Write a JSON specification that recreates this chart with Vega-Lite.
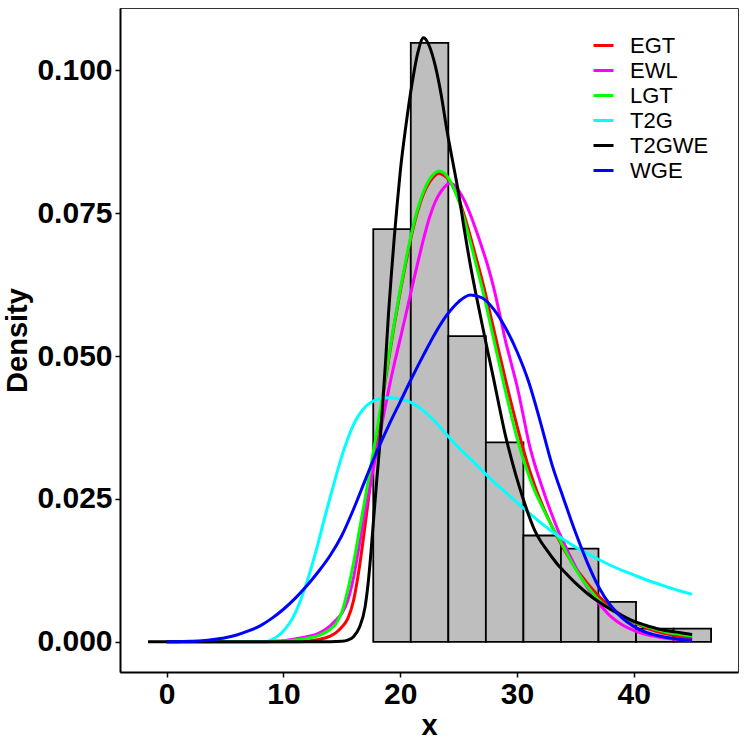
{
  "$schema": "https://vega.github.io/schema/vega-lite/v6.json",
  "width": 618,
  "height": 664,
  "autosize": {"type": "none"},
  "padding": {"left": 120, "top": 8, "right": 9, "bottom": 75},
  "config": {
    "font": "Liberation Sans",
    "view": {"stroke": "#333333", "strokeWidth": 1}
  },
  "datasets": {
    "hist": [
      {"x0": 17.69, "x1": 20.905, "density": 0.0722},
      {"x0": 20.905, "x1": 24.12, "density": 0.1048},
      {"x0": 24.12, "x1": 27.335, "density": 0.0535},
      {"x0": 27.335, "x1": 30.55, "density": 0.0349},
      {"x0": 30.55, "x1": 33.765, "density": 0.0186},
      {"x0": 33.765, "x1": 36.98, "density": 0.0163},
      {"x0": 36.98, "x1": 40.195, "density": 0.0070},
      {"x0": 40.195, "x1": 43.41, "density": 0.0023},
      {"x0": 43.41, "x1": 46.625, "density": 0.0023}
    ],
    "curves": [
      {"model": "EGT", "x": 0, "d": 0},
      {"model": "EGT", "x": 10, "d": 0},
      {"model": "EGT", "x": 11, "d": 0.00002},
      {"model": "EGT", "x": 12, "d": 0.0001},
      {"model": "EGT", "x": 13, "d": 0.0004},
      {"model": "EGT", "x": 14, "d": 0.0010},
      {"model": "EGT", "x": 14.5, "d": 0.0016},
      {"model": "EGT", "x": 15, "d": 0.0026},
      {"model": "EGT", "x": 15.5, "d": 0.0040},
      {"model": "EGT", "x": 16, "d": 0.0072},
      {"model": "EGT", "x": 16.5, "d": 0.0130},
      {"model": "EGT", "x": 17, "d": 0.0205},
      {"model": "EGT", "x": 17.5, "d": 0.0285},
      {"model": "EGT", "x": 18, "d": 0.0360},
      {"model": "EGT", "x": 18.5, "d": 0.0428},
      {"model": "EGT", "x": 19, "d": 0.0493},
      {"model": "EGT", "x": 19.5, "d": 0.0556},
      {"model": "EGT", "x": 20, "d": 0.0613},
      {"model": "EGT", "x": 20.5, "d": 0.0665},
      {"model": "EGT", "x": 21, "d": 0.0714},
      {"model": "EGT", "x": 21.5, "d": 0.0754},
      {"model": "EGT", "x": 22, "d": 0.0784},
      {"model": "EGT", "x": 22.5, "d": 0.0804},
      {"model": "EGT", "x": 23, "d": 0.0816},
      {"model": "EGT", "x": 23.3, "d": 0.0820},
      {"model": "EGT", "x": 23.5, "d": 0.0819},
      {"model": "EGT", "x": 24, "d": 0.0812},
      {"model": "EGT", "x": 24.5, "d": 0.0797},
      {"model": "EGT", "x": 25, "d": 0.0775},
      {"model": "EGT", "x": 25.5, "d": 0.0745},
      {"model": "EGT", "x": 26, "d": 0.0710},
      {"model": "EGT", "x": 26.5, "d": 0.0672},
      {"model": "EGT", "x": 27, "d": 0.0634},
      {"model": "EGT", "x": 27.5, "d": 0.0592},
      {"model": "EGT", "x": 28, "d": 0.0548},
      {"model": "EGT", "x": 28.5, "d": 0.0504},
      {"model": "EGT", "x": 29, "d": 0.0460},
      {"model": "EGT", "x": 29.5, "d": 0.0418},
      {"model": "EGT", "x": 30, "d": 0.0378},
      {"model": "EGT", "x": 30.5, "d": 0.0340},
      {"model": "EGT", "x": 31, "d": 0.0305},
      {"model": "EGT", "x": 31.5, "d": 0.0275},
      {"model": "EGT", "x": 32, "d": 0.0248},
      {"model": "EGT", "x": 32.5, "d": 0.0224},
      {"model": "EGT", "x": 33, "d": 0.0202},
      {"model": "EGT", "x": 33.5, "d": 0.0182},
      {"model": "EGT", "x": 34, "d": 0.0163},
      {"model": "EGT", "x": 34.5, "d": 0.0146},
      {"model": "EGT", "x": 35, "d": 0.0130},
      {"model": "EGT", "x": 35.5, "d": 0.0116},
      {"model": "EGT", "x": 36, "d": 0.0103},
      {"model": "EGT", "x": 37, "d": 0.0080},
      {"model": "EGT", "x": 38, "d": 0.0061},
      {"model": "EGT", "x": 39, "d": 0.0046},
      {"model": "EGT", "x": 40, "d": 0.0034},
      {"model": "EGT", "x": 41, "d": 0.0025},
      {"model": "EGT", "x": 42, "d": 0.0018},
      {"model": "EGT", "x": 43, "d": 0.0013},
      {"model": "EGT", "x": 44, "d": 0.0009},
      {"model": "EGT", "x": 45, "d": 0.0007},

      {"model": "EWL", "x": 0, "d": 0},
      {"model": "EWL", "x": 8, "d": 0},
      {"model": "EWL", "x": 9, "d": 0.0001},
      {"model": "EWL", "x": 10, "d": 0.0002},
      {"model": "EWL", "x": 11, "d": 0.0005},
      {"model": "EWL", "x": 12, "d": 0.0009},
      {"model": "EWL", "x": 13, "d": 0.0015},
      {"model": "EWL", "x": 14, "d": 0.0028},
      {"model": "EWL", "x": 14.5, "d": 0.0038},
      {"model": "EWL", "x": 15, "d": 0.0050},
      {"model": "EWL", "x": 15.5, "d": 0.0072},
      {"model": "EWL", "x": 16, "d": 0.0112},
      {"model": "EWL", "x": 16.5, "d": 0.0170},
      {"model": "EWL", "x": 17, "d": 0.0228},
      {"model": "EWL", "x": 17.5, "d": 0.0282},
      {"model": "EWL", "x": 18, "d": 0.0335},
      {"model": "EWL", "x": 18.5, "d": 0.0388},
      {"model": "EWL", "x": 19, "d": 0.0440},
      {"model": "EWL", "x": 19.5, "d": 0.0487},
      {"model": "EWL", "x": 20, "d": 0.0530},
      {"model": "EWL", "x": 20.5, "d": 0.0574},
      {"model": "EWL", "x": 21, "d": 0.0619},
      {"model": "EWL", "x": 21.5, "d": 0.0663},
      {"model": "EWL", "x": 22, "d": 0.0705},
      {"model": "EWL", "x": 22.5, "d": 0.0742},
      {"model": "EWL", "x": 23, "d": 0.0770},
      {"model": "EWL", "x": 23.5, "d": 0.0788},
      {"model": "EWL", "x": 24, "d": 0.0800},
      {"model": "EWL", "x": 24.2, "d": 0.0803},
      {"model": "EWL", "x": 24.5, "d": 0.0801},
      {"model": "EWL", "x": 25, "d": 0.0790},
      {"model": "EWL", "x": 25.5, "d": 0.0772},
      {"model": "EWL", "x": 26, "d": 0.0748},
      {"model": "EWL", "x": 26.5, "d": 0.0720},
      {"model": "EWL", "x": 27, "d": 0.0690},
      {"model": "EWL", "x": 27.5, "d": 0.0658},
      {"model": "EWL", "x": 28, "d": 0.0620},
      {"model": "EWL", "x": 28.5, "d": 0.0575},
      {"model": "EWL", "x": 29, "d": 0.0528},
      {"model": "EWL", "x": 29.5, "d": 0.0488},
      {"model": "EWL", "x": 30, "d": 0.0448},
      {"model": "EWL", "x": 30.5, "d": 0.0400},
      {"model": "EWL", "x": 31, "d": 0.0350},
      {"model": "EWL", "x": 31.5, "d": 0.0312},
      {"model": "EWL", "x": 32, "d": 0.0280},
      {"model": "EWL", "x": 32.5, "d": 0.0250},
      {"model": "EWL", "x": 33, "d": 0.0222},
      {"model": "EWL", "x": 33.5, "d": 0.0196},
      {"model": "EWL", "x": 34, "d": 0.0174},
      {"model": "EWL", "x": 34.5, "d": 0.0152},
      {"model": "EWL", "x": 35, "d": 0.0132},
      {"model": "EWL", "x": 35.5, "d": 0.0113},
      {"model": "EWL", "x": 36, "d": 0.0096},
      {"model": "EWL", "x": 37, "d": 0.0068},
      {"model": "EWL", "x": 38, "d": 0.0045},
      {"model": "EWL", "x": 39, "d": 0.0030},
      {"model": "EWL", "x": 40, "d": 0.0020},
      {"model": "EWL", "x": 41, "d": 0.0013},
      {"model": "EWL", "x": 42, "d": 0.0009},
      {"model": "EWL", "x": 43, "d": 0.0006},
      {"model": "EWL", "x": 44, "d": 0.0004},
      {"model": "EWL", "x": 45, "d": 0.0003},

      {"model": "LGT", "x": 0, "d": 0},
      {"model": "LGT", "x": 8, "d": 0},
      {"model": "LGT", "x": 9, "d": 0.00005},
      {"model": "LGT", "x": 10, "d": 0.0001},
      {"model": "LGT", "x": 11, "d": 0.0003},
      {"model": "LGT", "x": 12, "d": 0.0006},
      {"model": "LGT", "x": 13, "d": 0.0011},
      {"model": "LGT", "x": 14, "d": 0.0022},
      {"model": "LGT", "x": 14.5, "d": 0.0032},
      {"model": "LGT", "x": 15, "d": 0.0052},
      {"model": "LGT", "x": 15.5, "d": 0.0090},
      {"model": "LGT", "x": 16, "d": 0.0138},
      {"model": "LGT", "x": 16.5, "d": 0.0195},
      {"model": "LGT", "x": 17, "d": 0.0252},
      {"model": "LGT", "x": 17.5, "d": 0.0310},
      {"model": "LGT", "x": 18, "d": 0.0368},
      {"model": "LGT", "x": 18.5, "d": 0.0432},
      {"model": "LGT", "x": 19, "d": 0.0497},
      {"model": "LGT", "x": 19.5, "d": 0.0559},
      {"model": "LGT", "x": 20, "d": 0.0616},
      {"model": "LGT", "x": 20.5, "d": 0.0669},
      {"model": "LGT", "x": 21, "d": 0.0718},
      {"model": "LGT", "x": 21.5, "d": 0.0758},
      {"model": "LGT", "x": 22, "d": 0.0788},
      {"model": "LGT", "x": 22.5, "d": 0.0809},
      {"model": "LGT", "x": 23, "d": 0.0821},
      {"model": "LGT", "x": 23.3, "d": 0.0824},
      {"model": "LGT", "x": 23.5, "d": 0.0823},
      {"model": "LGT", "x": 24, "d": 0.0815},
      {"model": "LGT", "x": 24.5, "d": 0.0797},
      {"model": "LGT", "x": 25, "d": 0.0772},
      {"model": "LGT", "x": 25.5, "d": 0.0738},
      {"model": "LGT", "x": 26, "d": 0.0700},
      {"model": "LGT", "x": 26.5, "d": 0.0660},
      {"model": "LGT", "x": 27, "d": 0.0620},
      {"model": "LGT", "x": 27.5, "d": 0.0576},
      {"model": "LGT", "x": 28, "d": 0.0530},
      {"model": "LGT", "x": 28.5, "d": 0.0485},
      {"model": "LGT", "x": 29, "d": 0.0440},
      {"model": "LGT", "x": 29.5, "d": 0.0397},
      {"model": "LGT", "x": 30, "d": 0.0357},
      {"model": "LGT", "x": 30.5, "d": 0.0322},
      {"model": "LGT", "x": 31, "d": 0.0292},
      {"model": "LGT", "x": 31.5, "d": 0.0265},
      {"model": "LGT", "x": 32, "d": 0.0243},
      {"model": "LGT", "x": 32.5, "d": 0.0222},
      {"model": "LGT", "x": 33, "d": 0.0202},
      {"model": "LGT", "x": 33.5, "d": 0.0184},
      {"model": "LGT", "x": 34, "d": 0.0165},
      {"model": "LGT", "x": 34.5, "d": 0.0146},
      {"model": "LGT", "x": 35, "d": 0.0128},
      {"model": "LGT", "x": 35.5, "d": 0.0112},
      {"model": "LGT", "x": 36, "d": 0.0098},
      {"model": "LGT", "x": 37, "d": 0.0073},
      {"model": "LGT", "x": 38, "d": 0.0057},
      {"model": "LGT", "x": 39, "d": 0.0045},
      {"model": "LGT", "x": 40, "d": 0.0035},
      {"model": "LGT", "x": 41, "d": 0.0027},
      {"model": "LGT", "x": 42, "d": 0.0021},
      {"model": "LGT", "x": 43, "d": 0.0016},
      {"model": "LGT", "x": 44, "d": 0.0013},
      {"model": "LGT", "x": 45, "d": 0.0010},

      {"model": "T2G", "x": 0, "d": 0},
      {"model": "T2G", "x": 8.5, "d": 0},
      {"model": "T2G", "x": 9, "d": 0.0004},
      {"model": "T2G", "x": 9.5, "d": 0.0010},
      {"model": "T2G", "x": 10, "d": 0.0019},
      {"model": "T2G", "x": 10.5, "d": 0.0032},
      {"model": "T2G", "x": 11, "d": 0.0050},
      {"model": "T2G", "x": 11.5, "d": 0.0075},
      {"model": "T2G", "x": 12, "d": 0.0104},
      {"model": "T2G", "x": 12.5, "d": 0.0138},
      {"model": "T2G", "x": 13, "d": 0.0175},
      {"model": "T2G", "x": 13.5, "d": 0.0215},
      {"model": "T2G", "x": 14, "d": 0.0253},
      {"model": "T2G", "x": 14.5, "d": 0.0290},
      {"model": "T2G", "x": 15, "d": 0.0325},
      {"model": "T2G", "x": 15.5, "d": 0.0355},
      {"model": "T2G", "x": 16, "d": 0.0380},
      {"model": "T2G", "x": 16.5, "d": 0.0398},
      {"model": "T2G", "x": 17, "d": 0.0411},
      {"model": "T2G", "x": 17.5, "d": 0.0419},
      {"model": "T2G", "x": 18, "d": 0.0424},
      {"model": "T2G", "x": 19, "d": 0.0427},
      {"model": "T2G", "x": 20, "d": 0.0425},
      {"model": "T2G", "x": 21, "d": 0.0418},
      {"model": "T2G", "x": 22, "d": 0.0404},
      {"model": "T2G", "x": 23, "d": 0.0385},
      {"model": "T2G", "x": 24, "d": 0.0362},
      {"model": "T2G", "x": 25, "d": 0.0340},
      {"model": "T2G", "x": 26, "d": 0.0320},
      {"model": "T2G", "x": 27, "d": 0.0300},
      {"model": "T2G", "x": 28, "d": 0.0280},
      {"model": "T2G", "x": 29, "d": 0.0262},
      {"model": "T2G", "x": 30, "d": 0.0244},
      {"model": "T2G", "x": 31, "d": 0.0226},
      {"model": "T2G", "x": 32, "d": 0.0209},
      {"model": "T2G", "x": 33, "d": 0.0193},
      {"model": "T2G", "x": 34, "d": 0.0179},
      {"model": "T2G", "x": 35, "d": 0.0166},
      {"model": "T2G", "x": 36, "d": 0.0155},
      {"model": "T2G", "x": 37, "d": 0.0144},
      {"model": "T2G", "x": 38, "d": 0.0134},
      {"model": "T2G", "x": 39, "d": 0.0125},
      {"model": "T2G", "x": 40, "d": 0.0117},
      {"model": "T2G", "x": 41, "d": 0.0109},
      {"model": "T2G", "x": 42, "d": 0.0102},
      {"model": "T2G", "x": 43, "d": 0.0095},
      {"model": "T2G", "x": 44, "d": 0.0089},
      {"model": "T2G", "x": 45, "d": 0.0083},

      {"model": "T2GWE", "x": -1.6, "d": 0},
      {"model": "T2GWE", "x": 10, "d": 0},
      {"model": "T2GWE", "x": 14, "d": 0.00002},
      {"model": "T2GWE", "x": 15, "d": 0.0001},
      {"model": "T2GWE", "x": 15.5, "d": 0.0003},
      {"model": "T2GWE", "x": 16, "d": 0.0009},
      {"model": "T2GWE", "x": 16.5, "d": 0.0025},
      {"model": "T2GWE", "x": 17, "d": 0.0062},
      {"model": "T2GWE", "x": 17.25, "d": 0.0102},
      {"model": "T2GWE", "x": 17.5, "d": 0.0158},
      {"model": "T2GWE", "x": 17.75, "d": 0.0222},
      {"model": "T2GWE", "x": 18, "d": 0.0285},
      {"model": "T2GWE", "x": 18.25, "d": 0.0345},
      {"model": "T2GWE", "x": 18.5, "d": 0.0415},
      {"model": "T2GWE", "x": 18.75, "d": 0.0492},
      {"model": "T2GWE", "x": 19, "d": 0.0575},
      {"model": "T2GWE", "x": 19.25, "d": 0.0645},
      {"model": "T2GWE", "x": 19.5, "d": 0.0710},
      {"model": "T2GWE", "x": 19.75, "d": 0.0768},
      {"model": "T2GWE", "x": 20, "d": 0.0822},
      {"model": "T2GWE", "x": 20.5, "d": 0.0905},
      {"model": "T2GWE", "x": 21, "d": 0.0975},
      {"model": "T2GWE", "x": 21.5, "d": 0.1030},
      {"model": "T2GWE", "x": 22, "d": 0.1057},
      {"model": "T2GWE", "x": 22.5, "d": 0.1042},
      {"model": "T2GWE", "x": 23, "d": 0.1008},
      {"model": "T2GWE", "x": 23.5, "d": 0.0958},
      {"model": "T2GWE", "x": 24, "d": 0.0895},
      {"model": "T2GWE", "x": 24.5, "d": 0.0840},
      {"model": "T2GWE", "x": 25, "d": 0.0785},
      {"model": "T2GWE", "x": 25.5, "d": 0.0720},
      {"model": "T2GWE", "x": 26, "d": 0.0660},
      {"model": "T2GWE", "x": 26.5, "d": 0.0607},
      {"model": "T2GWE", "x": 27, "d": 0.0557},
      {"model": "T2GWE", "x": 27.5, "d": 0.0508},
      {"model": "T2GWE", "x": 28, "d": 0.0460},
      {"model": "T2GWE", "x": 28.5, "d": 0.0410},
      {"model": "T2GWE", "x": 29, "d": 0.0362},
      {"model": "T2GWE", "x": 29.5, "d": 0.0322},
      {"model": "T2GWE", "x": 30, "d": 0.0285},
      {"model": "T2GWE", "x": 30.5, "d": 0.0252},
      {"model": "T2GWE", "x": 31, "d": 0.0222},
      {"model": "T2GWE", "x": 31.5, "d": 0.0196},
      {"model": "T2GWE", "x": 32, "d": 0.0177},
      {"model": "T2GWE", "x": 32.5, "d": 0.0162},
      {"model": "T2GWE", "x": 33, "d": 0.0148},
      {"model": "T2GWE", "x": 33.5, "d": 0.0135},
      {"model": "T2GWE", "x": 34, "d": 0.0124},
      {"model": "T2GWE", "x": 35, "d": 0.0103},
      {"model": "T2GWE", "x": 36, "d": 0.0085},
      {"model": "T2GWE", "x": 37, "d": 0.0070},
      {"model": "T2GWE", "x": 38, "d": 0.0057},
      {"model": "T2GWE", "x": 39, "d": 0.0046},
      {"model": "T2GWE", "x": 40, "d": 0.0036},
      {"model": "T2GWE", "x": 41, "d": 0.0029},
      {"model": "T2GWE", "x": 42, "d": 0.0023},
      {"model": "T2GWE", "x": 43, "d": 0.0019},
      {"model": "T2GWE", "x": 44, "d": 0.0016},
      {"model": "T2GWE", "x": 45, "d": 0.0013},

      {"model": "WGE", "x": 0, "d": 0},
      {"model": "WGE", "x": 1, "d": 0.00003},
      {"model": "WGE", "x": 2, "d": 0.0001},
      {"model": "WGE", "x": 3, "d": 0.0002},
      {"model": "WGE", "x": 4, "d": 0.0004},
      {"model": "WGE", "x": 5, "d": 0.0007},
      {"model": "WGE", "x": 6, "d": 0.0012},
      {"model": "WGE", "x": 7, "d": 0.0019},
      {"model": "WGE", "x": 8, "d": 0.0028},
      {"model": "WGE", "x": 9, "d": 0.0041},
      {"model": "WGE", "x": 10, "d": 0.0057},
      {"model": "WGE", "x": 11, "d": 0.0076},
      {"model": "WGE", "x": 12, "d": 0.0098},
      {"model": "WGE", "x": 13, "d": 0.0123},
      {"model": "WGE", "x": 14, "d": 0.0151},
      {"model": "WGE", "x": 15, "d": 0.0186},
      {"model": "WGE", "x": 16, "d": 0.0232},
      {"model": "WGE", "x": 17, "d": 0.0283},
      {"model": "WGE", "x": 18, "d": 0.0333},
      {"model": "WGE", "x": 19, "d": 0.0378},
      {"model": "WGE", "x": 20, "d": 0.0420},
      {"model": "WGE", "x": 21, "d": 0.0462},
      {"model": "WGE", "x": 22, "d": 0.0502},
      {"model": "WGE", "x": 23, "d": 0.0540},
      {"model": "WGE", "x": 24, "d": 0.0572},
      {"model": "WGE", "x": 25, "d": 0.0595},
      {"model": "WGE", "x": 26, "d": 0.0607},
      {"model": "WGE", "x": 27, "d": 0.0602},
      {"model": "WGE", "x": 28, "d": 0.0582},
      {"model": "WGE", "x": 29, "d": 0.0550},
      {"model": "WGE", "x": 30, "d": 0.0508},
      {"model": "WGE", "x": 31, "d": 0.0455},
      {"model": "WGE", "x": 32, "d": 0.0385},
      {"model": "WGE", "x": 33, "d": 0.0310},
      {"model": "WGE", "x": 34, "d": 0.0250},
      {"model": "WGE", "x": 35, "d": 0.0192},
      {"model": "WGE", "x": 36, "d": 0.0140},
      {"model": "WGE", "x": 37, "d": 0.0096},
      {"model": "WGE", "x": 38, "d": 0.0064},
      {"model": "WGE", "x": 39, "d": 0.0042},
      {"model": "WGE", "x": 40, "d": 0.0027},
      {"model": "WGE", "x": 41, "d": 0.0017},
      {"model": "WGE", "x": 42, "d": 0.0011},
      {"model": "WGE", "x": 43, "d": 0.0007},
      {"model": "WGE", "x": 44, "d": 0.0004},
      {"model": "WGE", "x": 45, "d": 0.0003}
    ]
  },
  "layer": [
    {
      "data": {"name": "hist"},
      "mark": {"type": "rect", "fill": "#BEBEBE", "stroke": "black", "strokeWidth": 1.8},
      "encoding": {
        "x": {
          "field": "x0",
          "type": "quantitative",
          "scale": {"domain": [-4.0, 48.93], "nice": false, "zero": false},
          "axis": {
            "title": "x",
            "values": [0, 10, 20, 30, 40],
            "format": "d",
            "grid": false,
            "domainColor": "black",
            "domainWidth": 2,
            "tickColor": "black",
            "tickWidth": 1.5,
            "tickSize": 5,
            "labelFontSize": 30,
            "labelFontWeight": "bold",
            "labelColor": "black",
            "labelPadding": 2,
            "titleFontSize": 29,
            "titleFontWeight": "bold",
            "titleColor": "black",
            "titlePadding": 2
          }
        },
        "x2": {"field": "x1"},
        "y": {
          "field": "density",
          "type": "quantitative",
          "scale": {"domain": [-0.00528, 0.1109], "nice": false, "zero": false},
          "axis": {
            "title": "Density",
            "values": [0, 0.025, 0.05, 0.075, 0.1],
            "format": ".3f",
            "grid": false,
            "domainColor": "black",
            "domainWidth": 2,
            "tickColor": "black",
            "tickWidth": 1.5,
            "tickSize": 5,
            "labelFontSize": 30,
            "labelFontWeight": "bold",
            "labelColor": "black",
            "labelPadding": 3,
            "titleFontSize": 29,
            "titleFontWeight": "bold",
            "titleColor": "black",
            "titlePadding": 4
          }
        },
        "y2": {"datum": 0}
      }
    },
    {
      "data": {"name": "curves"},
      "mark": {"type": "line", "strokeWidth": 3, "interpolate": "monotone"},
      "encoding": {
        "x": {"field": "x", "type": "quantitative"},
        "y": {"field": "d", "type": "quantitative"},
        "color": {
          "field": "model",
          "type": "nominal",
          "scale": {
            "domain": ["EGT", "EWL", "LGT", "T2G", "T2GWE", "WGE"],
            "range": ["#FF0000", "#FF00FF", "#00FF00", "#00FFFF", "#000000", "#0000FF"]
          },
          "legend": {
            "title": null,
            "orient": "none",
            "legendX": 472,
            "legendY": 26,
            "symbolType": "stroke",
            "symbolStrokeWidth": 3,
            "symbolSize": 400,
            "labelFontSize": 22,
            "labelColor": "black",
            "labelOffset": 15,
            "rowPadding": 2
          }
        }
      }
    }
  ]
}
